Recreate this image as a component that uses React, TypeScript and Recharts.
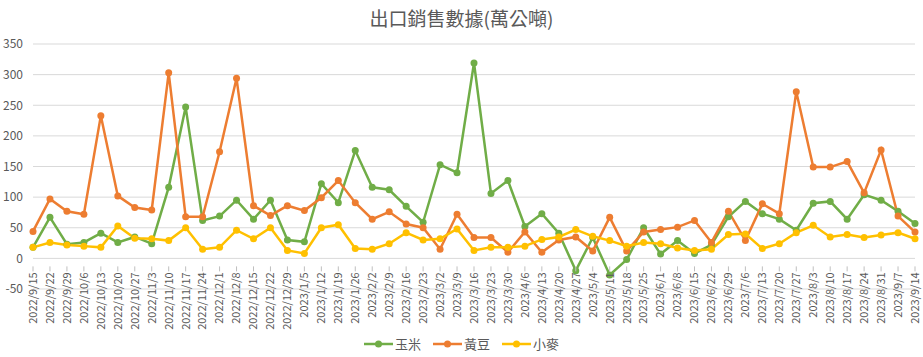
import { CartesianGrid, Legend, Line, LineChart, XAxis, YAxis } from "recharts";

const dates = [
  "2022/9/15", "2022/9/22", "2022/9/29", "2022/10/6", "2022/10/13", "2022/10/20", "2022/10/27",
  "2022/11/3", "2022/11/10", "2022/11/17", "2022/11/24", "2022/12/1", "2022/12/8", "2022/12/15",
  "2022/12/22", "2022/12/29", "2023/1/5", "2023/1/12", "2023/1/19", "2023/1/26", "2023/2/2",
  "2023/2/9", "2023/2/16", "2023/2/23", "2023/3/2", "2023/3/9", "2023/3/16", "2023/3/23",
  "2023/3/30", "2023/4/6", "2023/4/13", "2023/4/20", "2023/4/27", "2023/5/4", "2023/5/11",
  "2023/5/18", "2023/5/25", "2023/6/1", "2023/6/8", "2023/6/15", "2023/6/22", "2023/6/29",
  "2023/7/6", "2023/7/13", "2023/7/20", "2023/7/27", "2023/8/3", "2023/8/10", "2023/8/17",
  "2023/8/24", "2023/8/31", "2023/9/7", "2023/9/14",
];

const corn = [
  18, 67, 23, 26, 41, 26, 35, 24, 116, 247, 62, 69, 95, 64, 95, 30, 27,
  122, 91, 176, 116, 112, 85, 59, 153, 140, 319, 106, 127, 52, 73, 41, -20, 34,
  -27, -2, 50, 7, 29, 8, 22, 68, 93, 73, 64, 46, 90, 93, 64, 104, 95, 77, 57,
];

const soybean = [
  44, 97, 77, 72, 233, 102, 83, 79, 303, 68, 68, 174, 294, 86, 70, 86, 78,
  99, 127, 91, 64, 76, 56, 50, 15, 72, 34, 34, 10, 43, 10, 30, 35, 12,
  67, 12, 43, 47, 51, 62, 26, 77, 29, 89, 73, 272, 149, 149, 158, 107, 177, 69, 43,
];

const wheat = [
  18, 26, 22, 20, 18, 53, 33, 32, 29, 50, 15, 18, 46, 32, 50, 13, 8,
  50, 55, 16, 15, 24, 42, 30, 32, 48, 13, 18, 18, 20, 31, 35, 47, 36,
  29, 20, 26, 24, 17, 13, 15, 39, 40, 16, 24, 42, 54, 35, 39, 34, 38, 42, 32,
];

const yTicks = [-50, 0, 50, 100, 150, 200, 250, 300, 350];

const series = [
  { key: "corn", name: "玉米", color: "#70AD47" },
  { key: "soybean", name: "黃豆", color: "#ED7D31" },
  { key: "wheat", name: "小麥", color: "#FFC000" },
];

const data = dates.map((date, i) => ({
  date,
  corn: corn[i],
  soybean: soybean[i],
  wheat: wheat[i],
}));

const W = 923;
const H = 357;
const TOP = 44;
const X_AXIS_H = 68;
const PLOT_H = H - TOP - X_AXIS_H;
// category labels sit under the zero line, not under -50
const zeroShift = (PLOT_H * (0 - yTicks[0])) / (yTicks[yTicks.length - 1] - yTicks[0]);

const FONT = '"Noto Sans CJK TC", "Noto Sans", sans-serif';
const TEXT = "#595959";

function DateTick({ x, y, payload }: any) {
  const y0 = y - zeroShift;
  return (
    <g transform={`translate(${x},${y0})`}>
      <line x1={0} y1={0} x2={0} y2={5} stroke="#BFBFBF" />
      <text
        transform="rotate(-90)"
        x={-6}
        y={0}
        dy="0.35em"
        textAnchor="end"
        fontSize={11}
        fill={TEXT}
        fontFamily={FONT}
      >
        {payload.value}
      </text>
    </g>
  );
}

function LegendBox() {
  return (
    <div style={{ display: "flex", justifyContent: "center", gap: 12, fontFamily: FONT, fontSize: 13, color: TEXT }}>
      {series.map((s) => (
        <div key={s.key} style={{ display: "flex", alignItems: "center", gap: 2 }}>
          <svg width={29} height={10}>
            <line x1={0} y1={5} x2={29} y2={5} stroke={s.color} strokeWidth={2.5} />
            <circle cx={14.5} cy={5} r={3.5} fill={s.color} />
          </svg>
          <span>{s.name}</span>
        </div>
      ))}
    </div>
  );
}

export default function App() {
  return (
    <div style={{ position: "relative", width: W, height: H, background: "#fff" }}>
      <style>{`body{margin:0}`}</style>
      <div
        style={{
          position: "absolute",
          top: 4,
          left: 0,
          width: W,
          textAlign: "center",
          fontFamily: FONT,
          fontSize: 19,
          color: TEXT,
          zIndex: 1,
        }}
      >
        出口銷售數據(萬公噸)
      </div>
      <LineChart width={W} height={H} data={data} margin={{ top: TOP, right: 8, left: 0, bottom: 0 }}>
        <CartesianGrid stroke="#D9D9D9" vertical={false} />
        <XAxis
          dataKey="date"
          interval={0}
          height={X_AXIS_H}
          axisLine={false}
          tickLine={false}
          tick={<DateTick />}
        />
        <YAxis
          width={33}
          domain={[-50, 350]}
          ticks={yTicks}
          axisLine={false}
          tickLine={false}
          tickMargin={4}
          tick={{ fontSize: 12, fill: TEXT, fontFamily: FONT }}
        />
        <Legend
          layout="horizontal"
          verticalAlign="middle"
          align="center"
          wrapperStyle={{ top: 334, left: 0, width: W }}
          content={() => <LegendBox />}
        />
        {series.map((s) => (
          <Line
            key={s.key}
            type="linear"
            dataKey={s.key}
            name={s.name}
            stroke={s.color}
            strokeWidth={2.5}
            dot={{ r: 3.5, fill: s.color, stroke: s.color, strokeWidth: 0 }}
            activeDot={false}
            isAnimationActive={false}
          />
        ))}
      </LineChart>
    </div>
  );
}
